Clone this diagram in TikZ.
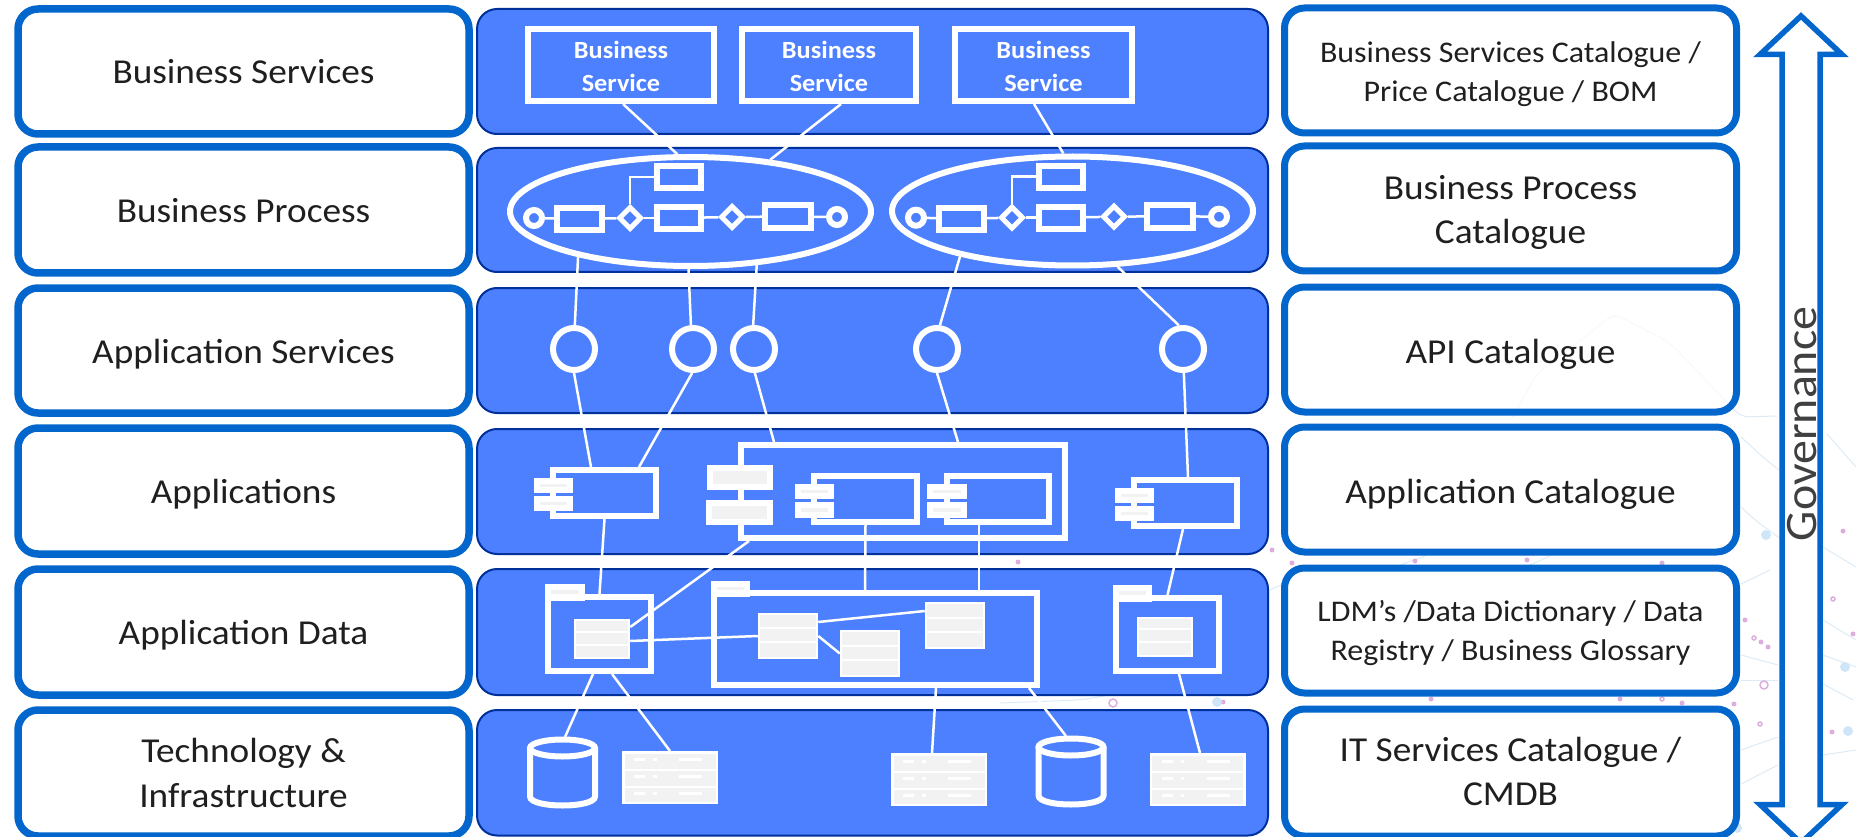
\documentclass[tikz,border=0pt]{standalone}
\usepackage{fontspec}
\setmainfont{Carlito}[FakeStretch=1.065]
\usetikzlibrary{shapes.geometric,calc}
\definecolor{panelblue}{HTML}{4C80FF}
\definecolor{paneledge}{HTML}{00309A}
\definecolor{boxblue}{HTML}{0366CC}
\definecolor{inkdark}{HTML}{1F1F1F}
\definecolor{greyfill}{HTML}{F2F2F2}
\definecolor{bgline}{HTML}{DDEBF6}
\definecolor{bgdot}{HTML}{DDAEDD}
\definecolor{bgblue}{HTML}{CFE6F8}
\newcommand{\boxat}[6][]{\node[#1,minimum width={(#5-#3)*1pt},minimum height={(#6-#4)*1pt}] (#2) at ({(#3+#5)/2},{(#4+#6)/2}) {};}
\newcommand{\labelbox}[7][]{\node[#1,minimum width={(#5-#3)*1pt},minimum height={(#6-#4)*1pt}] (#2) at ({(#3+#5)/2},{(#4+#6)/2}) {#7};}
% two-line text whose first line top and last line depth are fixed
\newcommand{\twolines}[4]{\rule{0pt}{#3pt}#1\\#2\rule[-#4pt]{0pt}{#4pt}}
\newcommand{\rowsep}[2]{\draw[sepline] (#1.west |- 0,#2) -- (#1.east |- 0,#2);}
\newcommand{\classat}[7]{\boxat[thinbox]{#1}{#2}{#3}{#4}{#5}\rowsep{#1}{#6}\rowsep{#1}{#7}}
\newcommand{\serverat}[3]{%
  \boxat[thinbox]{#1}{#2}{#3}{#2+93.5}{#3+50.5}%
  \rowsep{#1}{#3+17.5}\rowsep{#1}{#3+34.5}%
  \foreach \d in {7,24,41}{%
    \draw[sepline] (#2+11,#3+\d) -- (#2+22,#3+\d);
    \draw[sepline] (#2+30,#3+\d) -- (#2+33.5,#3+\d);
    \draw[sepline] (#2+56,#3+\d) -- (#2+79,#3+\d);
  }}
\newcommand{\cylat}[3]{%
  \node[minimum width=71pt,minimum height=71pt,inner sep=0pt,outer sep=0pt] (#1) at (#2,#3) {};
  \draw[thickwhite] (#2,#3-24.5) ellipse [x radius=32.5pt,y radius=8.5pt];
  \draw[thickwhite] (#2-32.5,#3-24.5) -- (#2-32.5,#3+24) .. controls (#2-32.5,#3+36) and (#2+32.5,#3+36) .. (#2+32.5,#3+24) -- (#2+32.5,#3-24.5);}
\newcommand{\procflow}[3]{%
  \begin{scope}[shift={(#2,#3)}]
    \boxat[thickbox]{#1top}{657}{166}{701}{188}
    \node[evcircle] (#1s) at (534,218) {};
    \boxat[thickbox]{#1ta}{557}{208}{602}{230}
    \node[gateway] (#1ga) at (630,218) {};
    \boxat[thickbox]{#1tb}{657}{207}{701}{229}
    \node[gateway] (#1gb) at (732,217) {};
    \boxat[thickbox]{#1tc}{765}{205}{811}{228}
    \node[evcircle] (#1e) at (837,217) {};
    \draw[link] (#1s) -- (#1ta);
    \draw[link] (#1ta) -- (#1ga);
    \draw[link] (#1ga) -- (#1tb);
    \draw[link] (#1tb) -- (#1gb);
    \draw[link] (#1gb) -- (#1tc);
    \draw[link] (#1tc) -- (#1e);
    \draw[link] (#1ga.north) |- (#1top.west);
  \end{scope}}
\tikzset{
  layerbox/.style={draw=boxblue,line width=7.5pt,fill=white,rounded corners=20pt,inner sep=0pt,outer sep=0pt,text=inkdark,align=center},
  catbox/.style={layerbox,line width=7pt},
  lefttext/.style={font=\fontsize{35}{45}\selectfont},
  catbig/.style={font=\fontsize{35}{44}\selectfont},
  catsmall/.style={font=\fontsize{30}{39}\selectfont},
  oneline/.style={text height=#1,text depth=0pt},
  panel/.style={draw=paneledge,line width=2pt,fill=panelblue,rounded corners=20pt,inner sep=0pt,outer sep=0pt},
  thickbox/.style={draw=white,line width=6pt,inner sep=0pt},
  svcbox/.style={thickbox,text=white,align=center,font=\fontsize{24.7}{32.5}\bfseries\selectfont},
  tabbox/.style={thickbox,fill=greyfill},
  thinbox/.style={draw=white,line width=2.5pt,fill=greyfill,inner sep=0pt},
  sepline/.style={draw=white,line width=2.5pt},
  thickwhite/.style={draw=white,line width=6pt},
  link/.style={draw=white,line width=2.5pt},
  evcircle/.style={circle,draw=white,line width=6pt,minimum size=16pt,inner sep=0pt},
  apicircle/.style={circle,draw=white,line width=6pt,minimum size=42pt,inner sep=0pt},
  gateway/.style={diamond,aspect=1,draw=white,line width=5pt,minimum width=23pt,minimum height=23pt,inner sep=0pt},
  procring/.style={ellipse,draw=white,line width=6pt,minimum width=361pt,minimum height=109pt,inner sep=0pt},
  bgl/.style={draw=bgline,line width=1pt,rounded corners=8pt},
}
\begin{document}
\begin{tikzpicture}[x=1pt,y=-1pt]
\useasboundingbox (0,0) rectangle (1856,837);
\begin{scope}
\clip (0,0) rectangle (1856,837);
% faint background network
\draw[bgl] (1513,417) -- (1536,375) -- (1610,317) -- (1617,315) -- (1640,327) -- (1669,342) -- (1703,377) -- (1741,417) -- (1777,416);
\draw[bgl] (1741,437) -- (1765,459) -- (1779,470);
\draw[bgl] (1741,507) -- (1755,520) -- (1782,540);
\draw[bgl] (1827,434) -- (1856,467);
\draw[bgl] (1823,547) -- (1856,567);
\draw[bgl] (1823,620) -- (1856,640);
\draw[bgl] (1741,584) -- (1770,570);
\draw[bgl] (1741,655) -- (1778,665);
\draw[bgl] (1823,655) -- (1856,667);
\draw[bgl] (1741,680) -- (1778,680);
\draw[bgl] (1823,684) -- (1853,700);
\draw[bgl] (1741,750) -- (1778,737);
\draw[bgl] (1741,784) -- (1778,765);
\draw[bgl] (1823,755) -- (1856,750);
\draw[bgl] (1400,565) -- (1425,556);
\draw[bgl] (1530,565) -- (1550,556);
\draw[bgl] (1270,590) -- (1285,583);
\draw[bgl] (1000,703) -- (1080,700) -- (1110,695);
\foreach \p in {(1745,620),(1761,642),(1768,647),(1734,704),(1832,732),(1843,531),(1853,634),(1415,561),(1527,560),(1662,563),(1431,699),(1620,699),(1682,703),(1018,562),(1272,550),(1292,563),(1223,702)}
  \fill[bgdot] \p circle (2.5pt);
\foreach \p/\r in {(1754,638)/2,(1764,685)/4,(1760,724)/2,(1662,699)/2,(1833,599)/2,(1113,703)/4}
  \draw[bgdot,line width=1.5pt] \p circle (\r pt);
\foreach \p in {(1766,535),(1848,731),(1845,667),(1217,702),(1737,828)}
  \fill[bgblue] \p circle (5pt);
% left column
\labelbox[layerbox,lefttext,oneline=25pt]{l1}{18}{9}{469}{134}{Business Services}
\labelbox[layerbox,lefttext,oneline=25pt]{l2}{18}{147}{469}{273}{Business Process}
\labelbox[layerbox,lefttext,oneline=25pt]{l3}{18}{288}{469}{413}{Application Services}
\labelbox[layerbox,lefttext,oneline=25pt]{l4}{18}{428}{469}{554}{Applications}
\labelbox[layerbox,lefttext,oneline=25pt]{l5}{18}{569}{469}{695}{Application Data}
\labelbox[layerbox,lefttext]{l6}{18}{710}{469}{836}{\twolines{Technology \&}{Infrastructure}{30}{7}}
% centre panels
\boxat[panel]{p1}{477}{9}{1268}{134}
\boxat[panel]{p2}{477}{148}{1268}{272}
\boxat[panel]{p3}{477}{288}{1268}{413}
\boxat[panel]{p4}{477}{429}{1268}{554}
\boxat[panel]{p5}{477}{569}{1268}{695}
\boxat[panel]{p6}{477}{710}{1268}{835.5}
% right column
\labelbox[catbox,catsmall]{r1}{1284.5}{8}{1736.5}{133}{\twolines{Business Services Catalogue /}{Price Catalogue / BOM}{30}{6}}
\labelbox[catbox,catbig]{r2}{1284.5}{146}{1736.5}{271}{\twolines{Business Process}{Catalogue}{32}{6}}
\labelbox[catbox,catbig,oneline=27pt,fill opacity=0.75,text opacity=1,draw opacity=1]{r3}{1284.5}{287}{1736.5}{412}{API Catalogue}
\labelbox[catbox,catbig,oneline=27pt]{r4}{1284.5}{427}{1736.5}{552}{Application Catalogue}
\labelbox[catbox,catsmall]{r5}{1284.5}{568}{1736.5}{693}{\twolines{LDM’s /Data Dictionary / Data}{Registry / Business Glossary}{26}{6}}
\labelbox[catbox,catbig]{r6}{1284.5}{709}{1736.5}{836}{\twolines{IT Services Catalogue /}{CMDB}{28}{7}}
% governance arrow
\draw[draw=boxblue,line width=5.5pt,fill=white,miter limit=10] (1801,16) -- (1842,54.5) -- (1820,54.5) -- (1820,804.5) -- (1842,804.5) -- (1801,843) -- (1760,804.5) -- (1782,804.5) -- (1782,54.5) -- (1760,54.5) -- cycle;
\node[rotate=90,anchor=south,inner sep=0pt,text=black!75,font=\fontsize{45}{50}\selectfont] (gov) at (1817.5,424) {Governance};
% business services
\labelbox[svcbox]{bs1}{528}{29}{714}{101}{\twolines{Business}{Service}{25}{5}}
\labelbox[svcbox]{bs2}{742}{29}{916}{101}{\twolines{Business}{Service}{25}{5}}
\labelbox[svcbox]{bs3}{955}{29}{1132}{101}{\twolines{Business}{Service}{25}{5}}
% business processes
\node[procring] (e1) at (690.5,211.5) {};
\node[procring] (e2) at (1072.5,211) {};
\procflow{a}{0}{0}
\procflow{b}{382}{-0.3}
% API circles
\node[apicircle] (c1) at (574,349) {};
\node[apicircle] (c2) at (693,349) {};
\node[apicircle] (c3) at (754,349) {};
\node[apicircle] (c4) at (937,349) {};
\node[apicircle] (c5) at (1183,349) {};
% applications
\boxat[thickbox]{app1}{553}{470}{656}{516}
\boxat[tabbox]{app1a}{537}{481}{570}{490}
\boxat[tabbox]{app1b}{537}{499}{570}{508}
\boxat[thickbox]{big}{741}{445}{1065}{538}
\boxat[tabbox]{biga}{710}{468}{770}{487}
\boxat[tabbox]{bigb}{709}{503}{770}{522}
\boxat[thickbox]{app2}{814}{476}{917}{522}
\boxat[tabbox]{app2a}{798}{487}{831}{496}
\boxat[tabbox]{app2b}{798}{505}{831}{515}
\boxat[thickbox]{app3}{947}{476}{1049}{522}
\boxat[tabbox]{app3a}{930}{487}{964}{496}
\boxat[tabbox]{app3b}{930}{505}{964}{515}
\boxat[thickbox]{app4}{1134}{480}{1237}{526}
\boxat[tabbox]{app4a}{1118}{491}{1151}{500}
\boxat[tabbox]{app4b}{1118}{509}{1151}{518}
% data
\boxat[tabbox]{fold1t}{548}{587}{582}{598}
\boxat[thickbox]{fold1}{548}{597}{651}{671}
\boxat[tabbox]{fold2t}{714}{584}{747}{594}
\boxat[thickbox]{fold2}{714}{593}{1037}{685}
\boxat[tabbox]{fold3t}{1116}{588}{1149}{599}
\boxat[thickbox]{fold3}{1116}{598}{1219}{671}
\classat{cl1}{575}{620}{629}{658}{632}{645}
\classat{cl2}{759}{614}{817}{658}{628}{642}
\classat{cl3}{841}{631}{899}{676}{646}{660}
\classat{cl4}{926}{603}{984}{648}{618}{632}
\classat{cl5}{1138}{618}{1192}{656}{629}{642}
% infrastructure
\cylat{cyl1}{562.5}{772.5}
\cylat{cyl2}{1071}{771.5}
\serverat{srv1}{623.25}{752.25}
\serverat{srv2}{892.25}{754.25}
\serverat{srv3}{1150.75}{754.25}
% connectors
\draw[link] ([xshift=2pt]bs1.south) -- (e1.103);
\draw[link] ([xshift=12pt]bs2.south) -- (e1.33);
\draw[link] ([xshift=-9.5pt]bs3.south) -- (e2.99);
\draw[link] (e1.202.5) -- (c1.88);
\draw[link] (e1.268.5) -- (c2.95);
\draw[link] (e1.321) -- (c3.92);
\draw[link] (e2.202) -- (c4.83);
\draw[link] (e2.309) -- (c5.100);
\draw[link] (c1.270) -- ([xshift=-13.5pt]app1.north);
\draw[link] (c2.268) -- ([xshift=34.5pt]app1.north);
\draw[link] (c3.272) -- ([xshift=-129pt]big.north);
\draw[link] (c4.270) -- ([xshift=55pt]big.north);
\draw[link] (c5.272) -- ([xshift=2.5pt]app4.north);
\draw[link] (app1.south) -- (fold1.north);
\draw[link] ([xshift=-154pt]big.south) -- ([yshift=12pt]cl1.east);
\draw[link] (app2.south) -- ([xshift=-10.5pt]fold2.north);
\draw[link] ([xshift=-19pt]app3.south) -- ([xshift=103.5pt]fold2.north);
\draw[link] ([xshift=-2.5pt]app4.south) -- (fold3.north);
\draw[link] ([yshift=-2pt]cl1.east) -- (cl2.west);
\draw[link] ([yshift=14pt]cl2.east) -- ([yshift=14.5pt]cl4.west);
\draw[link] (cl2.east) -- (cl3.west);
\draw[link] ([xshift=-6.5pt]fold1.south) -- ([xshift=2.5pt]cyl1.north);
\draw[link] ([xshift=12.5pt]fold1.south) -- (srv1.north);
\draw[link] ([xshift=60.5pt]fold2.south) -- ([xshift=-7pt]srv2.north);
\draw[link] ([xshift=153.5pt]fold2.south) -- ([xshift=-5pt]cyl2.north);
\draw[link] ([xshift=11.5pt]fold3.south) -- ([xshift=2.5pt]srv3.north);
\end{scope}
\end{tikzpicture}
\end{document}
